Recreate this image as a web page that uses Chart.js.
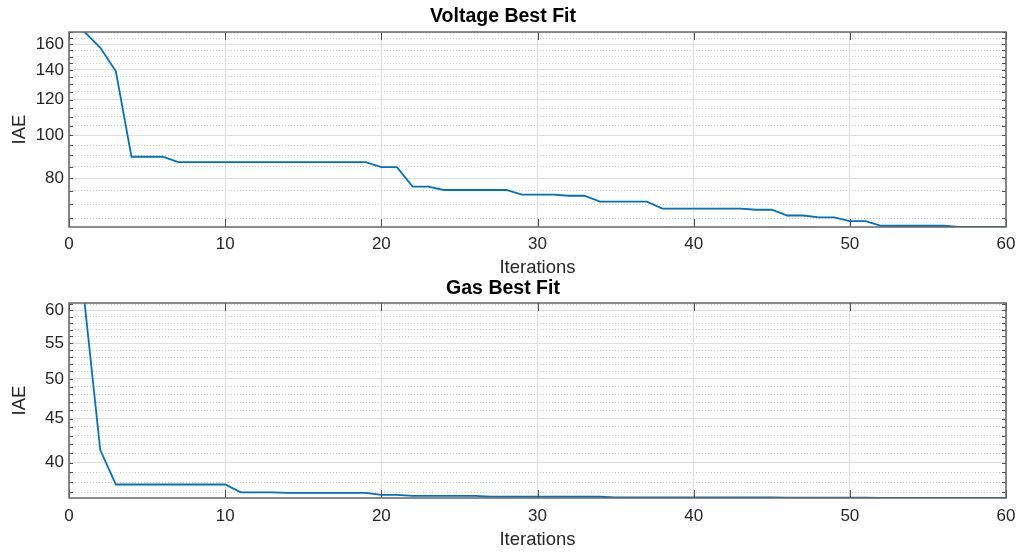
<!DOCTYPE html>
<html>
<head>
<meta charset="utf-8">
<script src="https://cdn.jsdelivr.net/npm/chart.js@4/dist/chart.umd.min.js"></script>
<style>
  body { margin: 0; background: #fff; }
  #wrap { position: relative; width: 1018px; height: 552px; overflow: hidden; }
  canvas { position: absolute; left: 0; }
  #voltage-chart { top: 0; }
  #gas-chart { top: 270px; }
</style>
</head>
<body>
<div id="wrap">
  <canvas id="voltage-chart" width="1018" height="285"></canvas>
  <canvas id="gas-chart" width="1018" height="282"></canvas>
</div>
<script>
// --- DATA ---
const iterations = [1, 2, 3, 4, 5, 6, 7, 8, 9, 10, 11, 12, 13, 14, 15, 16, 17, 18, 19, 20,
    21, 22, 23, 24, 25, 26, 27, 28, 29, 30, 31, 32, 33, 34, 35, 36, 37, 38, 39, 40,
    41, 42, 43, 44, 45, 46, 47, 48, 49, 50, 51, 52, 53, 54, 55, 56, 57, 58, 59, 60];

const voltageIAE = [170.3, 157.2, 139.0, 89.4, 89.4, 89.4, 87.0, 87.0, 87.0, 87.0,
    87.0, 87.0, 87.0, 87.0, 87.0, 87.0, 87.0, 87.0, 87.0, 84.7,
    84.7, 76.6, 76.6, 75.3, 75.3, 75.3, 75.3, 75.3, 73.5, 73.5,
    73.5, 73.1, 73.1, 70.9, 70.9, 70.9, 70.9, 68.4, 68.4, 68.4,
    68.4, 68.4, 68.4, 68.0, 68.0, 66.0, 66.0, 65.4, 65.4, 64.1,
    64.1, 62.6, 62.6, 62.6, 62.6, 62.6, 62.2, 62.2, 62.2, 62.2];

const gasIAE = [61.2, 41.4, 37.75, 37.75, 37.75, 37.75, 37.75, 37.75, 37.75, 37.75,
    36.97, 36.97, 36.97, 36.92, 36.92, 36.92, 36.92, 36.92, 36.92, 36.72,
    36.72, 36.62, 36.62, 36.62, 36.62, 36.62, 36.56, 36.56, 36.56, 36.56,
    36.56, 36.56, 36.56, 36.56, 36.48, 36.48, 36.48, 36.48, 36.48, 36.48,
    36.48, 36.48, 36.48, 36.48, 36.48, 36.46, 36.46, 36.46, 36.46, 36.46,
    36.46, 36.44, 36.44, 36.44, 36.44, 36.44, 36.42, 36.42, 36.42, 36.42];

const voltageMajorTicks = [80, 100, 120, 140, 160];
const voltageMinorTicks = [65, 70, 75, 85, 90, 95, 105, 110, 115, 125, 130, 135, 145, 150, 155, 165, 170];
const gasMajorTicks = [40, 45, 50, 55, 60];
const gasMinorTicks = [37, 38, 39, 41, 42, 43, 44, 46, 47, 48, 49, 51, 52, 53, 54, 56, 57, 58, 59, 61];
const xTicks = [0, 10, 20, 30, 40, 50, 60];

const FONT = "'Liberation Sans', Arial, Helvetica, sans-serif";
const LINE_BLUE = '#0072BD';

// --- MATLAB-STYLE BOX WITH INWARD TICKS ---
const matlabBox = {
    id: 'matlabBox',
    afterDatasetsDraw(chart) {
        const { ctx, chartArea: a } = chart;
        const x = chart.scales.x, y = chart.scales.y;
        ctx.save();
        ctx.strokeStyle = '#4d4d4d';
        ctx.lineWidth = 1;
        ctx.beginPath();
        y.ticks.forEach(t => {
            const py = Math.round(y.getPixelForValue(t.value)) + 0.5;
            ctx.moveTo(a.left, py); ctx.lineTo(a.left + 4, py);
            ctx.moveTo(a.right, py); ctx.lineTo(a.right - 4, py);
        });
        x.ticks.forEach(t => {
            const px = Math.round(x.getPixelForValue(t.value)) + 0.5;
            ctx.moveTo(px, a.bottom); ctx.lineTo(px, a.bottom - 8);
            ctx.moveTo(px, a.top); ctx.lineTo(px, a.top + 8);
        });
        ctx.stroke();
        ctx.strokeStyle = '#666';
        ctx.lineWidth = 1.5;
        ctx.strokeRect(a.left, a.top, a.right - a.left, a.bottom - a.top);
        ctx.restore();
    }
};

function drawChart(canvasId, title, values, majorTicks, minorTicks, layout) {
    const allTicks = majorTicks.concat(minorTicks).sort((p, q) => p - q);
    const yMin = Math.min(...values);
    const yMax = Math.max(...values);
    const canvas = document.getElementById(canvasId);

    return new Chart(canvas.getContext('2d'), {
        type: 'line',
        data: {
            datasets: [{
                data: values.map((v, i) => ({ x: iterations[i], y: v })),
                borderColor: LINE_BLUE,
                borderWidth: 1.8,
                pointRadius: 0,
                tension: 0,
                fill: false
            }]
        },
        options: {
            responsive: false,
            animation: false,
            layout: { padding: { left: 0, right: 12, top: 0, bottom: 0 } },
            plugins: {
                legend: { display: false },
                tooltip: { enabled: false },
                title: {
                    display: true,
                    text: title,
                    color: '#000',
                    font: { family: FONT, size: 19.5, weight: 'bold', lineHeight: 1.1 },
                    padding: layout.titlePad
                }
            },
            scales: {
                x: {
                    type: 'linear',
                    min: 0,
                    max: 60,
                    afterBuildTicks: s => { s.ticks = xTicks.map(v => ({ value: v })); },
                    afterFit: s => {
                        s.height = layout.xHeight;
                        s.paddingLeft = 0;
                        s.paddingRight = 0;
                    },
                    ticks: {
                        color: '#262626',
                        font: { family: FONT, size: 17 },
                        padding: layout.xTickPad,
                        maxRotation: 0
                    },
                    grid: { color: '#dcdcdc', lineWidth: 1, drawTicks: false },
                    border: { display: false },
                    title: {
                        display: true,
                        text: 'Iterations',
                        color: '#262626',
                        font: { family: FONT, size: 18.5 },
                        padding: { top: 0, bottom: layout.xTitlePad }
                    }
                },
                y: {
                    type: 'logarithmic',
                    min: yMin,
                    max: yMax,
                    bounds: 'data',
                    afterBuildTicks: s => {
                        s.ticks = allTicks.filter(v => v >= yMin && v <= yMax).map(v => ({ value: v }));
                    },
                    afterFit: s => {
                        s.width = 69;
                        s.paddingTop = 0;
                        s.paddingBottom = 0;
                    },
                    ticks: {
                        autoSkip: false,
                        color: '#262626',
                        font: { family: FONT, size: 17 },
                        padding: 5,
                        callback: v => majorTicks.includes(v) ? String(v) : ''
                    },
                    grid: {
                        drawTicks: false,
                        lineWidth: 1,
                        color: ctx => majorTicks.includes(ctx.tick.value) ? '#dedede' : '#cdcdcd'
                    },
                    border: {
                        display: false,
                        dash: ctx => majorTicks.includes(ctx.tick.value) ? [] : [1, 2]
                    },
                    title: {
                        display: true,
                        text: 'IAE',
                        color: '#262626',
                        font: { family: FONT, size: 18.5 },
                        padding: { top: 9, bottom: 0 }
                    }
                }
            }
        },
        plugins: [matlabBox]
    });
}

drawChart('voltage-chart', 'Voltage Best Fit', voltageIAE, voltageMajorTicks, voltageMinorTicks,
    { titlePad: { top: 5.5, bottom: 5.05 }, xHeight: 58, xTickPad: 7.5, xTitlePad: 5.9 });
drawChart('gas-chart', 'Gas Best Fit', gasIAE, gasMajorTicks, gasMinorTicks,
    { titlePad: { top: 7.5, bottom: 4.05 }, xHeight: 54, xTickPad: 8.5, xTitlePad: 0.9 });
</script>
</body>
</html>
